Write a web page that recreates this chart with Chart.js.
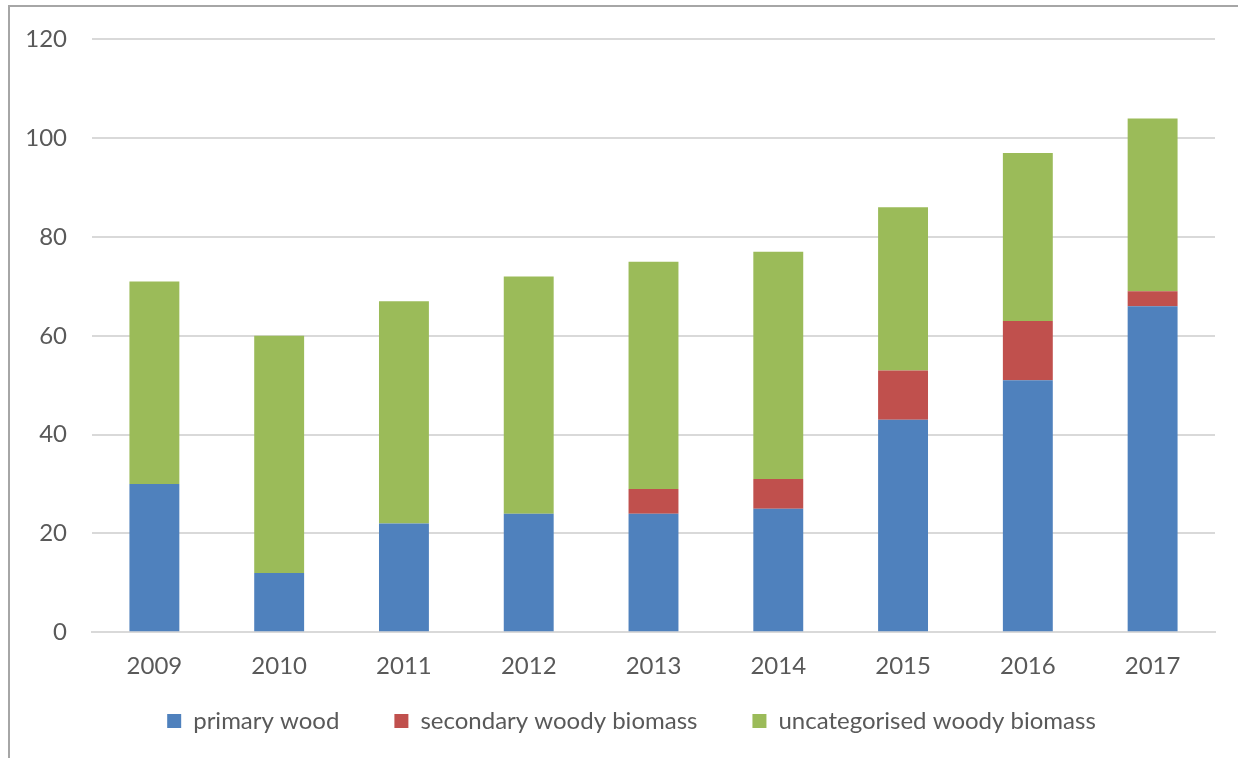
<!DOCTYPE html>
<html>
<head>
<meta charset="utf-8">
<script src="https://cdn.jsdelivr.net/npm/chart.js@4"></script>
<style>
  html, body { margin: 0; padding: 0; background: #fff; }
  body { width: 1238px; height: 758px; position: relative; overflow: hidden; }
  .frame {
    position: absolute; left: 8px; top: 5px; width: 1300px; height: 800px;
    border-left: 2px solid #a6a6a6; border-top: 2px solid #a6a6a6;
  }
  #myChart { position: absolute; left: 0; top: 0; }
</style>
</head>
<body>
<div class="frame"></div>
<canvas id="myChart" width="1238" height="758"></canvas>
<script>
const years = ["2009", "2010", "2011", "2012", "2013", "2014", "2015", "2016", "2017"];
const primaryWood = [30, 12, 22, 24, 24, 25, 43, 51, 66];
const secondaryWoody = [0, 0, 0, 0, 5, 6, 10, 12, 3];
const uncategorisedWoody = [41, 48, 45, 48, 46, 46, 33, 34, 35];
const yTicks = [0, 20, 40, 60, 80, 100, 120];

const textColor = "#595959";
const fontFamily = "Lato, 'Open Sans', sans-serif";

// fix the legend height so the plot keeps its place, then move the legend row
const legendPlace = {
  id: "legendPlace",
  beforeInit(chart) {
    const origFit = chart.legend.fit;
    chart.legend.fit = function () {
      origFit.bind(chart.legend)();
      this.height = 57;
    };
  },
  afterLayout(chart) {
    const lg = chart.legend;
    lg.top = 654;
    lg.bottom = 758;
    lg.height = lg.bottom - lg.top;
    lg.left += 24;
    lg.right += 24;
  },
};

var ctx = document.getElementById("myChart").getContext("2d");
var myChart = new Chart(ctx, {
  type: "bar",
  data: {
    labels: years,
    datasets: [
      {
        label: "primary wood",
        data: primaryWood,
        backgroundColor: "#4f81bd",
      },
      {
        label: "secondary woody biomass",
        data: secondaryWoody,
        backgroundColor: "#c0504d",
      },
      {
        label: "uncategorised woody biomass",
        data: uncategorisedWoody,
        backgroundColor: "#9bbb59",
      },
    ],
  },
  options: {
    responsive: false,
    animation: false,
    layout: {
      padding: { top: 33, right: 23, bottom: 0, left: 0 },
    },
    datasets: {
      bar: {
        categoryPercentage: 0.8,
        barPercentage: 0.5,
      },
    },
    plugins: {
      legend: {
        position: "bottom",
        labels: {
          color: textColor,
          font: { family: fontFamily, size: 24 },
          boxWidth: 14,
          boxHeight: 14,
          padding: 55,
        },
      },
      tooltip: { enabled: false },
    },
    scales: {
      x: {
        stacked: true,
        grid: { display: false, drawTicks: false },
        border: { color: "#d9d9d9", width: 2 },
        ticks: {
          color: textColor,
          font: { family: fontFamily, size: 24 },
          padding: 20,
        },
      },
      y: {
        stacked: true,
        min: 0,
        max: 120,
        afterFit: (scale) => {
          scale.width = 92;
        },
        afterBuildTicks: (scale) => {
          scale.ticks = yTicks.map((v) => ({ value: v }));
        },
        grid: { color: "#d9d9d9", lineWidth: 2, drawTicks: false },
        border: { display: false },
        ticks: {
          color: textColor,
          font: { family: fontFamily, size: 24 },
          padding: 25,
        },
      },
    },
  },
  plugins: [legendPlace],
});
</script>
</body>
</html>
